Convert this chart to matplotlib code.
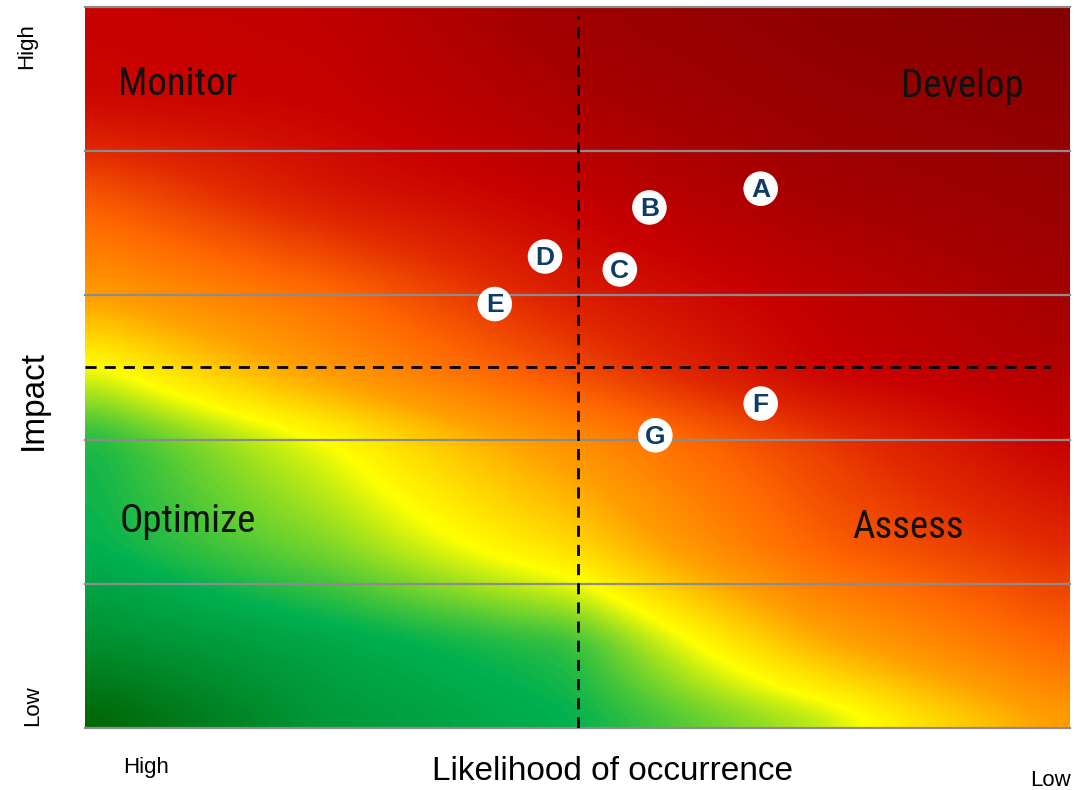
import numpy as np
import matplotlib
matplotlib.use("Agg")
import matplotlib.pyplot as plt
from matplotlib.colors import LinearSegmentedColormap

# Risk items: likelihood position (0 = high, 1 = low) and impact (0..5)
labels = ["A", "B", "C", "D", "E", "F", "G"]
likelihood = [0.686, 0.573, 0.543, 0.467, 0.416, 0.686, 0.579]
impact = [3.74, 3.61, 3.18, 3.27, 2.94, 2.25, 2.03]

quadrants = ["Monitor", "Develop", "Optimize", "Assess"]
quad_x = [0.094, 0.891, 0.104, 0.836]
quad_y = [4.46, 4.45, 1.43, 1.39]

# Background heat levels on a coarse grid (columns: likelihood fraction,
# each list runs up the impact fractions in heat_v)
heat_u = [0.0, 0.25, 0.5, 0.75, 1.0]
heat_v = [0.0, 0.12, 0.25, 0.4, 0.5, 0.6, 0.75, 0.87, 1.0]
heat_cols = [
    [0.0, 0.6, 1.0, 1.05, 1.9, 3.0, 4.3, 5.8, 6.0],
    [0.7, 0.9, 1.5, 2.0, 3.2, 3.9, 5.5, 6.0, 6.2],
    [1.0, 1.2, 2.4, 3.3, 4.5, 5.3, 6.2, 6.7, 7.1],
    [1.6, 2.9, 4.1, 4.7, 6.0, 6.2, 6.9, 7.3, 7.6],
    [3.0, 4.1, 5.0, 6.1, 6.6, 6.9, 7.3, 7.6, 8.0],
]
heat_colors = ["#006000", "#00b050", "#ffff00", "#ffa000", "#ff6600",
               "#e02800", "#c80000", "#a00000", "#850000"]

W, H = 1074, 790
fig = plt.figure(figsize=(W / 100, H / 100), dpi=100)
ax = fig.add_axes([85 / W, (H - 728) / H, 985 / W, 721 / H])

# Smooth heat field: bilinear upsampling of the grid, then a gaussian soften
N = 500
fine = np.linspace(0, 1, N)
cols = np.array([np.interp(fine, heat_v, c) for c in heat_cols])   # (n_u, N)
field = np.array([np.interp(fine, heat_u, cols[:, i]) for i in range(N)])  # (N_v, N_u)

def soften(a, sigma):
    k = np.arange(-3 * sigma, 3 * sigma + 1)
    w = np.exp(-0.5 * (k / sigma) ** 2)
    w /= w.sum()
    pad = len(k) // 2
    p = np.pad(a, ((pad, pad), (0, 0)), mode="reflect")
    a = np.apply_along_axis(lambda c: np.convolve(c, w, mode="valid"), 0, p)
    p = np.pad(a, ((0, 0), (pad, pad)), mode="reflect")
    return np.apply_along_axis(lambda r: np.convolve(r, w, mode="valid"), 1, p)

field = soften(field, 10)
n_lev = len(heat_colors) - 1
cmap = LinearSegmentedColormap.from_list(
    "heat", [(i / n_lev, c) for i, c in enumerate(heat_colors)])
ax.imshow(field, extent=[0, 1, 0, 5], origin="lower", aspect="auto",
          cmap=cmap, vmin=0, vmax=n_lev, interpolation="bilinear", zorder=0)

ax.set_xlim(0, 1)
ax.set_ylim(0, 5)
for sp in ax.spines.values():
    sp.set_visible(False)
ax.set_xticks([])
ax.set_yticks([])

for yv in range(0, 6):
    ax.axhline(yv, color="#8c8c8c", lw=1.6, zorder=1, clip_on=False)

# Quadrant dividers
ax.plot([0.5, 0.5], [0, 4.94], color="black", lw=2, dashes=(4, 2.9), zorder=2)
ax.plot([0, 0.98], [2.5, 2.5], color="black", lw=2, dashes=(4, 2.9), zorder=2)

narrow = ["Liberation Sans Narrow", "Roboto Condensed", "Liberation Sans"]
for name, qx, qy in zip(quadrants, quad_x, quad_y):
    ax.text(qx, qy, name, ha="center", va="center", fontsize=28,
            family=narrow, color="#111111", zorder=3)

ax.scatter(likelihood, impact, s=620, color="white", edgecolors="none", zorder=4)
for lab, x, y in zip(labels, likelihood, impact):
    ax.text(x, y - 0.01, lab, ha="center", va="center", fontsize=19,
            fontweight="bold", family=["Liberation Sans", "DejaVu Sans"],
            color="#0d3c66", zorder=5)

font = ["Liberation Sans", "DejaVu Sans"]
fig.text(27 / W, 1 - 46 / H, "High", rotation=90, ha="center", va="center",
         fontsize=16, family=font)
fig.text(33 / W, 1 - 706 / H, "Low", rotation=90, ha="center", va="center",
         fontsize=16, family=font)
fig.text(33 / W, 1 - 400 / H, "Impact", rotation=90, ha="center", va="center",
         fontsize=24, family=font)
fig.text(146 / W, 1 - 767 / H, "High", ha="center", va="center",
         fontsize=16, family=font)
fig.text(612 / W, 1 - 772 / H, "Likelihood of occurrence", ha="center",
         va="center", fontsize=24, family=font)
fig.text(1050 / W, 1 - 780 / H, "Low", ha="center", va="center",
         fontsize=16, family=font)

fig.savefig("out.png", dpi=100)
